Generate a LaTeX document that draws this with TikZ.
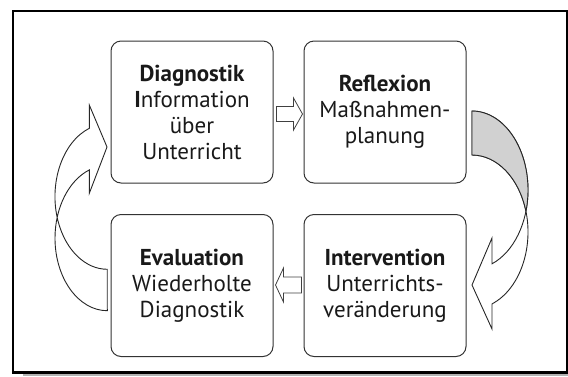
\documentclass[tikz,border=0pt]{standalone}
\usepackage{fontspec}
\setmainfont{PT Sans}
\usetikzlibrary{calc}
\begin{document}
\begin{tikzpicture}[x=1pt,y=-1pt,
  stage/.style={draw=black!80,line width=1pt,rounded corners=10pt,minimum width=162pt,minimum height=142pt,align=center,inner sep=0pt,font=\fontsize{23}{26}\selectfont,text=black!90},
  ribbon/.style={draw=black!85,line width=0.9pt,fill=white,line join=miter},
  small/.style={draw=black!75,line width=0.8pt,fill=white}]
\useasboundingbox (0,0) rectangle (568,376);
% frame
\fill[black!30] (23,373.3) rectangle (568,376);
\draw[line width=2pt] (566.7,372.5) -- (13,372.5) -- (13,11) -- (566.7,11) -- cycle;
\draw[line width=2.6pt] (12,372.4) -- (567.7,372.4);
% stages
\node[stage] (diag) at (192,112) {\textbf{Diagnostik}\\\textbf{I}nformation\\über\\Unterricht};
\node[stage] (refl) at (385,112) {\textbf{Reflexion}\\Maßnahmen-\\planung};
\node[stage] (eval) at (192,285.5) {\textbf{Evaluation}\\Wiederholte\\Diagnostik};
\node[stage] (inter) at (385,285.5) {\textbf{Intervention}\\Unterrichts-\\veränderung};
% small arrows
\draw[small] ($(diag.east)+(3,-5.5)$) -- ++(17,0) -- ++(0,-8.5) -- ++(9,16) -- ++(-9,16) -- ++(0,-8.5) -- ++(-17,0) -- cycle;
\draw[small] ($(inter.west)+(-2,-8.5)$) -- ++(-18,0) -- ++(0,-9) -- ++(-8,17) -- ++(8,17) -- ++(0,-9) -- ++(18,0) -- cycle;
% right curved arrow (Reflexion -> Intervention)
\coordinate (ra) at (472,111);
\coordinate (rb) at (472,155);
\draw[ribbon] (ra) arc[start angle=90,end angle=-69.08,x radius=56pt,y radius=79pt]
  -- (492,238) -- (472,285) -- (492,329) -- (492,303.9)
  arc[start angle=-69.08,end angle=90,x radius=56pt,y radius=77pt] -- cycle;
\draw[ribbon,fill=black!18] (ra) arc[start angle=90,end angle=-15.64,x radius=56pt,y radius=79pt]
  arc[start angle=15.6,end angle=90,x radius=56pt,y radius=77pt] -- cycle;
% left curved arrow (Evaluation -> Diagnostik)
\coordinate (la) at (107.3,269.3);
\coordinate (lb) at (107.3,310.7);
\draw[ribbon] (lb) arc[start angle=270,end angle=110.1,x radius=52.3pt,y radius=72.6pt]
  -- (89.3,193.3) -- (107,147) -- (89.3,105) -- (89.3,128.3)
  arc[start angle=110.1,end angle=270,x radius=52.3pt,y radius=72.7pt] -- cycle;
\end{tikzpicture}
\end{document}
